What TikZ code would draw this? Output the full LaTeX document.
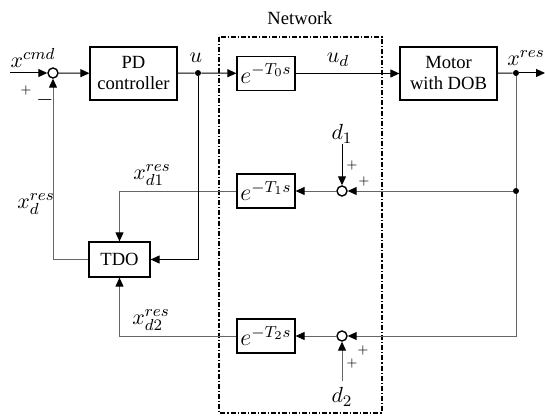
\documentclass[tikz,border=0pt]{standalone}
\usepackage{fontspec}
\setmainfont{Liberation Serif}
\usetikzlibrary{positioning,arrows.meta}

\begin{document}
\begin{tikzpicture}[x=0.5pt,y=-0.5pt,
    block/.style={rectangle,draw,line width=0.6pt,minimum width=43.5pt,minimum height=26.5pt,
                  align=center,inner sep=1pt,font=\fontsize{9.3}{10.5}\selectfont},
    delay/.style={rectangle,draw,line width=0.6pt,minimum width=29pt,minimum height=17pt,
                  inner sep=1pt,font=\fontsize{11.5}{12}\selectfont},
    sumnode/.style={circle,draw,line width=0.7pt,fill=white,minimum size=5pt,inner sep=0pt},
    dot/.style={circle,fill,minimum size=3pt,inner sep=0pt},
    arrow/.style={-{Triangle[length=4.5pt,width=4pt,color=black]},line width=0.5pt},
    fb/.style={line width=0.5pt,black!60},
    lbl/.style={inner sep=0pt,font=\fontsize{11}{12}\selectfont},
    sign/.style={inner sep=0pt,font=\fontsize{6}{7}\selectfont},
    netbox/.style={line width=0.7pt,dash pattern=on 2.5pt off 1pt on 0.6pt off 1pt}
]
\useasboundingbox (0,0) rectangle (545,417);

% Network
\draw[netbox] (219,37) rectangle (382,413);
\node[font=\fontsize{9.3}{10.5}\selectfont] (net) at (300,18) {Network};

% Forward path
\coordinate (in) at (10,73);
\node[sumnode] (sum0) at (53,73) {};
\node[block] (pd) at (133.5,73.5) {PD\\controller};
\node[dot] (du) at (198,73) {};
\node[delay] (dl0) at (266,73.5) {$e^{-T_0 s}$};
\node[block,minimum width=48.5pt] (motor) at (448.5,73.5) {Motor\\with DOB};
\node[dot] (dx) at (516,73) {};
\coordinate (out) at (545,73);

% Feedback branch 1
\node[dot] (dx1) at (516,191) {};
\node[sumnode] (sum1) at (342,191) {};
\node[lbl] (d1) at (342,134) {$d_1$};
\node[delay] (dl1) at (266,191) {$e^{-T_1 s}$};

% Feedback branch 2
\node[sumnode] (sum2) at (342,336) {};
\node[lbl] (d2) at (342,397) {$d_2$};
\node[delay] (dl2) at (266,336) {$e^{-T_2 s}$};

% Observer
\node[block,minimum width=30.5pt,minimum height=17.5pt] (tdo) at (119.5,259.5) {TDO};

% Signal labels
\node[lbl] at (33,58) {$x^{cmd}$};
\node[sign] at (26,90) {$+$};
\node[lbl] at (45,100) {$-$};
\node[lbl] at (196,58) {$u$};
\node[lbl] at (338,60) {$u_d$};
\node[lbl] at (526,58) {$x^{res}$};
\node[lbl] at (36,204) {$x_d^{res}$};
\node[lbl] at (152,175) {$x_{d1}^{res}$};
\node[lbl] at (151,320) {$x_{d2}^{res}$};
\node[sign] at (352,165) {$+$};
\node[sign] at (364,181) {$+$};
\node[sign] at (352,363) {$+$};
\node[sign] at (363,350) {$+$};

% Arrows
\draw[arrow] (in) -- (sum0);
\draw[arrow] (sum0) -- (pd);
\draw[line width=0.5pt] (pd) -- (du);
\draw[arrow] (du) -- (dl0);
\draw[arrow] (dl0) -- (motor);
\draw[line width=0.5pt] (motor) -- (dx);
\draw[arrow] (dx) -- (out);

\draw[fb] (dx) -- (dx1);
\draw[fb,arrow] (dx1) -- (sum1);
\draw[arrow] (d1.south) -- (sum1);
\draw[fb,arrow] (sum1) -- (dl1);
\draw[fb,arrow] (dl1.west) -| (tdo.north);

\draw[fb,arrow] (dx1) |- (sum2);
\draw[fb,arrow] (d2.north) ++(0,-6) -- (sum2);
\draw[fb,arrow] (sum2) -- (dl2);
\draw[fb,arrow] (dl2.west) -| (tdo.south);

\draw[arrow] (du) |- (tdo.east);
\draw[fb,arrow] (tdo.west) -| (sum0);

\end{tikzpicture}
\end{document}
